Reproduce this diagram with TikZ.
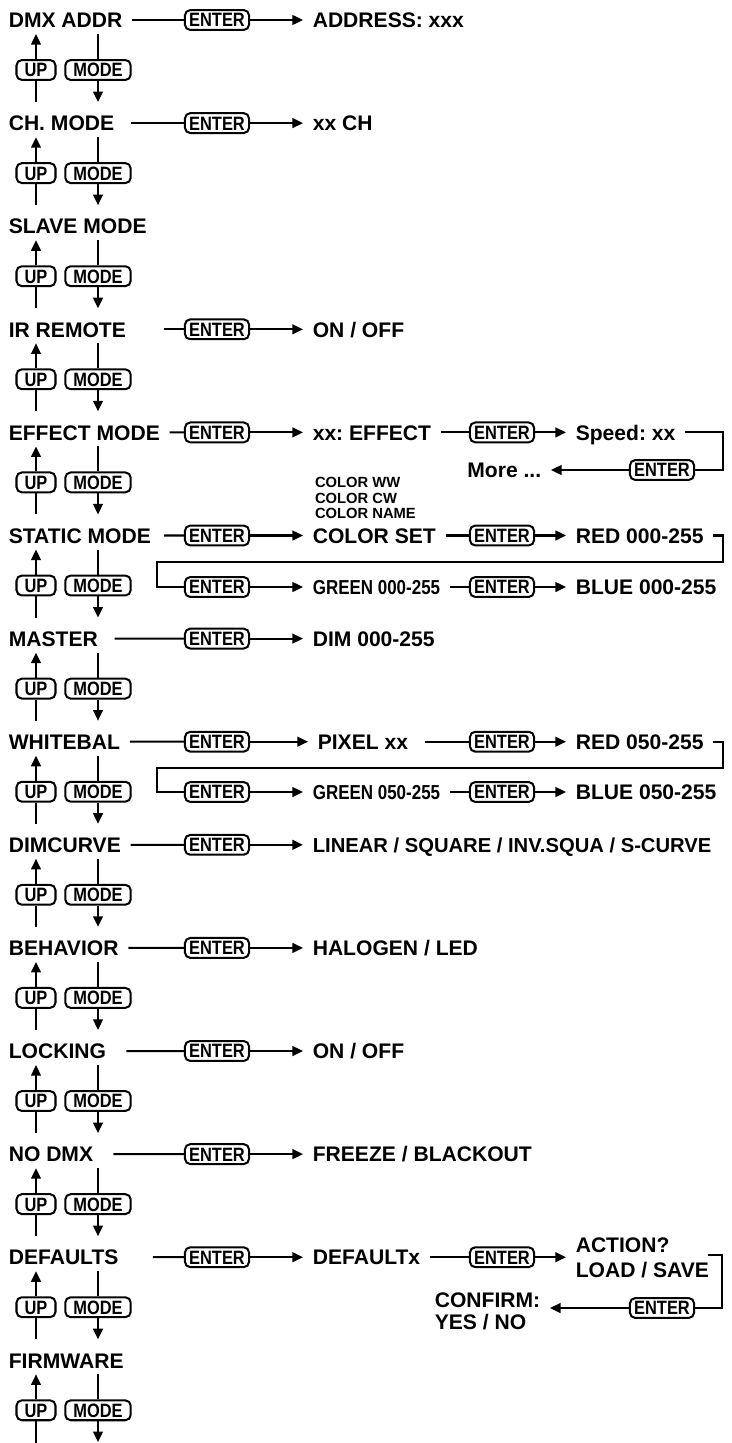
\documentclass[tikz,border=0pt]{standalone}
\usepackage{fontspec}
\setmainfont{Liberation Sans}
\newfontfamily\keyfont[FakeStretch=0.85]{Liberation Sans}
\newfontfamily\narrowfont[FakeStretch=0.84]{Liberation Sans}
\usetikzlibrary{arrows.meta}
\frenchspacing

\begin{document}
\begin{tikzpicture}[x=0.02cm, y=-0.02cm, line width=1.15pt,
    >={Triangle[length=6pt,width=5.5pt]},
    item/.style={inner xsep=5pt, inner ysep=0pt, text height=8.8pt, text depth=0pt,
                 font=\fontsize{12}{14}\selectfont\bfseries},
    key/.style={draw, rounded corners=3pt, inner xsep=2.4pt, inner ysep=1.7pt,
                text height=7.9pt, text depth=0pt,
                font=\keyfont\fontsize{11}{13}\selectfont\bfseries},
    navkey/.style={key, inner xsep=4.6pt},
    small/.style={item, font=\narrowfont\fontsize{11.5}{14}\selectfont\bfseries},
    stack/.style={inner sep=0pt, align=left, font=\fontsize{8.4}{8.8}\selectfont\bfseries}]
  \useasboundingbox (0,0) rectangle (731,1443);
  \coordinate (bot) at (0,1443);

  \foreach \txt [count=\i] in {DMX ADDR, CH. MODE, SLAVE MODE, IR REMOTE, EFFECT MODE,
      STATIC MODE, MASTER, WHITEBAL, DIMCURVE, BEHAVIOR, LOCKING, NO DMX, DEFAULTS, FIRMWARE} {
    \node[item, anchor=west] (m\i) at (-1,{20+103.1*(\i-1)}) {\txt};
    \node[navkey] (up\i) at (36,{70+103.1*(\i-1)}) {UP};
    \node[navkey] (md\i) at (98,{70+103.1*(\i-1)}) {MODE};
  }
  \foreach \i in {1,...,13} {
    \pgfmathtruncatemacro\j{\i+1}
    \draw[->, shorten >=3pt] (up\i.north) -- (up\i.north |- m\i.south);
    \draw[shorten >=7pt] (up\i.south) -- (up\i.south |- m\j.north);
    \draw[shorten <=3pt] (md\i.north |- m\i.south) -- (md\i.north);
    \draw[->, shorten >=7pt] (md\i.south) -- (md\i.south |- m\j.north);
  }
  \draw[->, shorten >=3pt] (up14.north) -- (up14.north |- m14.south);
  \draw (up14.south) -- (up14.south |- bot);
  \draw[shorten <=3pt] (md14.north |- m14.south) -- (md14.north);
  \draw[->, shorten >=0.5pt] (md14.south) -- (md14.south |- bot);

  \node[key] (e1) at (217,20) {ENTER};
  \node[item, anchor=west] (r1) at (303,20) {ADDRESS: xxx};
  \draw (m1) -- (e1);
  \draw[->] (e1) -- (r1);

  \node[key] (e2) at (217,123.1) {ENTER};
  \node[item, anchor=west] (r2) at (303,123.1) {xx CH};
  \draw ([xshift=4pt]m2.east) -- (e2);
  \draw[->] (e2) -- (r2);

  \node[key] (e4) at (217,329.3) {ENTER};
  \node[item, anchor=west] (r4) at (303,329.3) {ON / OFF};
  \draw ([xshift=16pt]m4.east) -- (e4);
  \draw[->] (e4) -- (r4);

  \node[key] (e5) at (217,432.4) {ENTER};
  \node[item, anchor=west] (r5) at (303,432.4) {xx: EFFECT};
  \node[key] (e5b) at (502,432.4) {ENTER};
  \node[item, anchor=west] (r5b) at (566,432.4) {Speed: xx};
  \node[key] (e5c) at (662,470) {ENTER};
  \node[item, anchor=east] (more) at (551,470) {More ...};
  \coordinate (t5) at (723,432.4);
  \draw (m5) -- (e5);
  \draw[->] (e5) -- (r5);
  \draw (r5) -- (e5b);
  \draw[->] (e5b) -- (r5b);
  \draw (r5b) -- (t5) |- (e5c);
  \draw[->] (e5c) -- (more);

  \node[key] (e6) at (217,535.5) {ENTER};
  \node[item, anchor=west] (r6) at (303,535.5) {COLOR SET};
  \node[stack, anchor=west] (c6) at (314,498) {COLOR WW\\COLOR CW\\COLOR NAME};
  \node[key] (e6b) at (502,535.5) {ENTER};
  \node[item, anchor=west] (r6b) at (566,535.5) {RED 000-255};
  \node[key] (e6c) at (217,587) {ENTER};
  \node[small, anchor=west] (r6c) at (303,587) {GREEN 000-255};
  \node[key] (e6d) at (502,587) {ENTER};
  \node[item, anchor=west] (r6d) at (566,587) {BLUE 000-255};
  \coordinate (t6) at (723,535.5);
  \coordinate (b6) at (157,562);
  \draw ([xshift=2pt]m6.east) -- (e6);
  \draw[->] (e6) -- (r6);
  \draw (r6) -- (e6b);
  \draw[->] (e6b) -- (r6b);
  \draw (r6b) -- (t6) |- (b6) |- (e6c);
  \draw[->] (e6c) -- (r6c);
  \draw (r6c) -- (e6d);
  \draw[->] (e6d) -- (r6d);

  \node[key] (e7) at (217,638.6) {ENTER};
  \node[item, anchor=west] (r7) at (303,638.6) {DIM 000-255};
  \draw ([xshift=4pt]m7.east) -- (e7);
  \draw[->] (e7) -- (r7);

  \node[key] (e8) at (217,741.7) {ENTER};
  \node[item, anchor=west] (r8) at (308,741.7) {PIXEL xx};
  \node[key] (e8b) at (502,741.7) {ENTER};
  \node[item, anchor=west] (r8b) at (566,741.7) {RED 050-255};
  \node[key] (e8c) at (217,792) {ENTER};
  \node[small, anchor=west] (r8c) at (303,792) {GREEN 050-255};
  \node[key] (e8d) at (502,792) {ENTER};
  \node[item, anchor=west] (r8d) at (566,792) {BLUE 050-255};
  \coordinate (t8) at (723,741.7);
  \coordinate (b8) at (157,768);
  \draw (m8) -- (e8);
  \draw[->] (e8) -- (r8);
  \draw ([xshift=4pt]r8.east) -- (e8b);
  \draw[->] (e8b) -- (r8b);
  \draw (r8b) -- (t8) |- (b8) |- (e8c);
  \draw[->] (e8c) -- (r8c);
  \draw (r8c) -- (e8d);
  \draw[->] (e8d) -- (r8d);

  \node[key] (e9) at (217,844.8) {ENTER};
  \node[item, anchor=west, font=\fontsize{11.5}{14}\selectfont\bfseries] (r9) at (303,844.8)
    {LINEAR / SQUARE / INV.SQUA / S-CURVE};
  \draw (m9) -- (e9);
  \draw[->] (e9) -- (r9);

  \node[key] (e10) at (217,947.9) {ENTER};
  \node[item, anchor=west] (r10) at (303,947.9) {HALOGEN / LED};
  \draw (m10) -- (e10);
  \draw[->] (e10) -- (r10);

  \node[key] (e11) at (217,1051) {ENTER};
  \node[item, anchor=west] (r11) at (303,1051) {ON / OFF};
  \draw ([xshift=6pt]m11.east) -- (e11);
  \draw[->] (e11) -- (r11);

  \node[key] (e12) at (217,1154.1) {ENTER};
  \node[item, anchor=west] (r12) at (303,1154.1) {FREEZE / BLACKOUT};
  \draw ([xshift=6pt]m12.east) -- (e12);
  \draw[->] (e12) -- (r12);

  \node[key] (e13) at (217,1257.2) {ENTER};
  \node[item, anchor=west] (r13) at (303,1257.2) {DEFAULTx};
  \node[key] (e13b) at (502,1257.2) {ENTER};
  \node[item, anchor=west, text height=, align=left, font=\fontsize{12}{14.2}\selectfont\bfseries]
    (r13b) at (566,1257.2) {ACTION?\\LOAD / SAVE};
  \node[key] (e13c) at (662,1308) {ENTER};
  \node[item, anchor=east, text height=, align=left, font=\fontsize{12}{12.5}\selectfont\bfseries]
    (conf) at (550,1311) {CONFIRM:\\YES / NO};
  \coordinate (s13) at (708,1255);
  \coordinate (t13) at (722,1255);
  \draw ([xshift=14pt]m13.east) -- (e13);
  \draw[->] (e13) -- (r13);
  \draw (r13) -- (e13b);
  \draw[->] (e13b) -- (r13b);
  \draw (s13) -- (t13) |- (e13c);
  \draw[->] (e13c) -- (e13c -| conf.east);
\end{tikzpicture}
\end{document}
